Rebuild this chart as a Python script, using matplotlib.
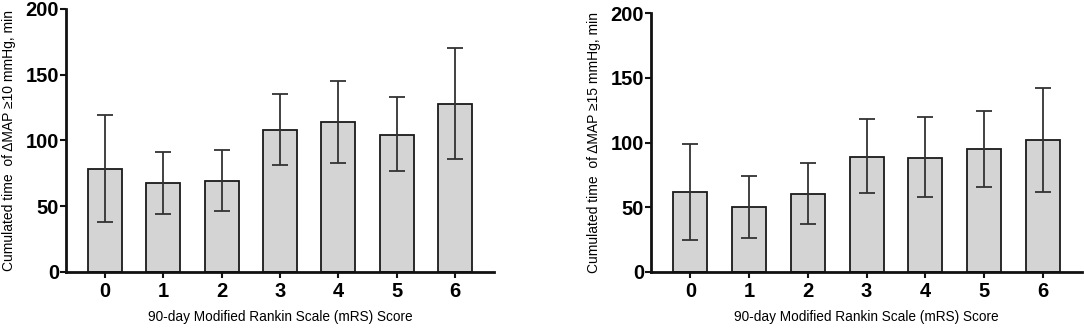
import numpy as np
import matplotlib.pyplot as plt

plt.rcParams['font.family'] = ['Liberation Sans', 'DejaVu Sans']

# mRS score categories
scores = ['0', '1', '2', '3', '4', '5', '6']

# panel A: dMAP >= 10 mmHg
mean_10 = [78, 67.5, 69.5, 108, 114, 104.5, 128]
low_10 = [38, 44, 46, 81, 83, 77, 86]
high_10 = [119, 91, 93, 135, 145, 133, 170]

# panel B: dMAP >= 15 mmHg
mean_15 = [62, 50, 60, 89, 88, 95, 102]
low_15 = [25, 26, 37, 61, 58, 66, 62]
high_15 = [99, 74, 84, 118, 120, 124, 142]


def draw_panel(ax, mean, low, high, ylabel):
    x = np.arange(len(scores))
    mean = np.array(mean)
    yerr = [mean - np.array(low), np.array(high) - mean]
    ax.bar(x, mean, width=0.58, color='#d4d4d4', edgecolor='#1a1a1a',
           linewidth=1.3, zorder=2)
    ax.errorbar(x, mean, yerr=yerr, fmt='none', ecolor='#333333',
                elinewidth=1.3, capsize=6, capthick=1.3, zorder=3)
    ax.set_xlim(-0.67, 6.67)
    ax.set_ylim(0, 200)
    ax.set_yticks([0, 50, 100, 150, 200])
    ax.set_xticks(x)
    ax.set_xticklabels(scores)
    for s in ['top', 'right']:
        ax.spines[s].set_visible(False)
    for s in ['left', 'bottom']:
        ax.spines[s].set_linewidth(2)
        ax.spines[s].set_color('#111111')
    ax.tick_params(axis='both', labelsize=14.5, width=1.5, length=4,
                   color='#111111')
    ax.tick_params(axis='y', pad=1)
    ax.tick_params(axis='x', pad=3)
    for lab in ax.get_xticklabels() + ax.get_yticklabels():
        lab.set_fontweight('bold')
    ax.set_xlabel('90-day Modified Rankin Scale (mRS) Score', fontsize=9.8,
                  labelpad=7)
    ax.set_ylabel(ylabel, fontsize=10, labelpad=7)


fig = plt.figure(figsize=(10.84, 3.29), dpi=100)
ax1 = fig.add_axes([0.0609, 0.1733, 0.3948, 0.7994])
ax2 = fig.add_axes([0.6006, 0.1733, 0.3976, 0.787])

draw_panel(ax1, mean_10, low_10, high_10,
           'Cumulated time  of \u0394MAP \u226510 mmHg, min')
draw_panel(ax2, mean_15, low_15, high_15,
           'Cumulated time  of \u0394MAP \u226515 mmHg, min')

fig.savefig('out.png', dpi=100)
